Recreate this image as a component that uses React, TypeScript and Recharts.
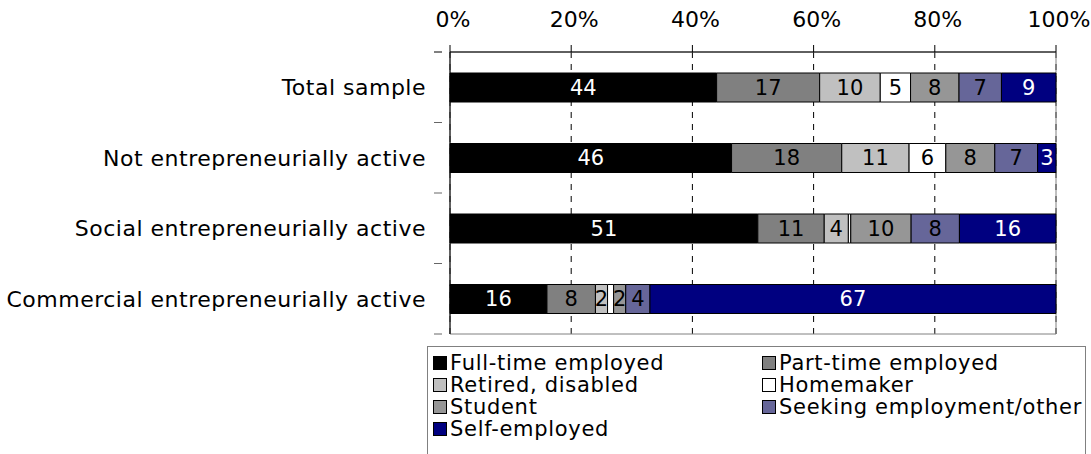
import { BarChart, Bar, XAxis, YAxis, CartesianGrid, LabelList, ReferenceArea } from "recharts";

const categories = [
  "Total sample",
  "Not entrepreneurially active",
  "Social entrepreneurially active",
  "Commercial entrepreneurially active",
];

const fullTime = [44, 46, 51, 16];
const partTime = [17, 18, 11, 8];
const retired = [10, 11, 4, 2];
const homemaker = [5, 6, 0.4, 1];
const student = [8, 8, 10, 2];
const seeking = [7, 7, 8, 4];
const selfEmployed = [9, 3, 16, 67];

const xTicks = [0, 0.2, 0.4, 0.6, 0.8, 1];

const series = [
  { key: "fullTime", name: "Full-time employed", values: fullTime, color: "#000000", text: "#ffffff" },
  { key: "partTime", name: "Part-time employed", values: partTime, color: "#808080", text: "#000000" },
  { key: "retired", name: "Retired, disabled", values: retired, color: "#c0c0c0", text: "#000000" },
  { key: "homemaker", name: "Homemaker", values: homemaker, color: "#ffffff", text: "#000000" },
  { key: "student", name: "Student", values: student, color: "#969696", text: "#000000" },
  { key: "seeking", name: "Seeking employment/other", values: seeking, color: "#666699", text: "#000000" },
  { key: "selfEmployed", name: "Self-employed", values: selfEmployed, color: "#000080", text: "#ffffff" },
];

const data = categories.map((name, i) => {
  const row: Record<string, string | number> = { name };
  series.forEach((s) => {
    row[s.key] = s.values[i];
  });
  return row;
});

const FONT = "'DejaVu Sans', Verdana, sans-serif";

// category label centred on the band, tick marks on the band edges
function CategoryTick(props: any) {
  const { x, y, payload, index } = props;
  const half = payload?.offset ?? 35.25;
  return (
    <g>
      <text
        x={x - 16}
        y={y}
        dy={8}
        textAnchor="end"
        fontSize={22}
        letterSpacing={0.5}
        fill="#000"
        fontFamily={FONT}
      >
        {payload.value}
      </text>
      <line x1={x - 8} x2={x} y1={y + half} y2={y + half} stroke="#666" />
      {index === 0 && <line x1={x - 8} x2={x} y1={y - half} y2={y - half} stroke="#000" />}
    </g>
  );
}

function LegendBox() {
  return (
    <div
      style={{
        position: "absolute",
        left: 427,
        top: 346,
        border: "1px solid #808080",
        width: 659,
        height: 120,
        boxSizing: "border-box",
        padding: "5px 0 0 5px",
        display: "grid",
        gridTemplateColumns: "329px 325px",
        gridAutoRows: "22px",
        fontFamily: FONT,
        fontSize: 21,
        letterSpacing: 0.7,
        lineHeight: "22px",
        color: "#000",
      }}
    >
      {series.map((s) => (
        <div key={s.key} style={{ display: "flex", alignItems: "center", whiteSpace: "nowrap" }}>
          <span
            style={{
              display: "inline-block",
              width: 12,
              height: 12,
              background: s.color,
              border: "1px solid #000",
              marginRight: 3,
              flexShrink: 0,
            }}
          />
          {s.name}
        </div>
      ))}
    </div>
  );
}

export default function App() {
  return (
    <div style={{ position: "fixed", left: 0, top: 0, width: 1091, height: 454, background: "#fff", overflow: "hidden" }}>
      <BarChart
        width={1091}
        height={454}
        data={data}
        layout="vertical"
        stackOffset="expand"
        barSize={29}
        margin={{ top: 0, right: 35, bottom: 120, left: 0 }}
      >
        <CartesianGrid horizontal={false} stroke="#000" strokeDasharray="6 6" />
        <XAxis
          type="number"
          orientation="top"
          domain={[0, 1]}
          ticks={xTicks}
          tickFormatter={(v: number) => `${Math.round(v * 100)}%`}
          height={52}
          axisLine={{ stroke: "#000" }}
          tickLine={{ stroke: "#000" }}
          tickSize={7}
          tickMargin={18}
          tick={{ fontSize: 22, fill: "#000", fontFamily: FONT, dx: 3 }}
          interval={0}
        />
        <YAxis
          type="category"
          dataKey="name"
          width={450}
          axisLine={{ stroke: "#000" }}
          tickLine={false}
          tick={<CategoryTick />}
          interval={0}
        />
        <ReferenceArea x1={0} x2={1} fill="none" stroke="#808080" ifOverflow="visible" />
        {series.map((s) => (
          <Bar
            key={s.key}
            dataKey={s.key}
            name={s.name}
            stackId="a"
            fill={s.color}
            stroke="#000"
            strokeWidth={1}
            isAnimationActive={false}
          >
            <LabelList
              dataKey={s.key}
              position="center"
              fill={s.text}
              fontSize={21}
              fontFamily={FONT}
              formatter={(v: any) => (Number(v) >= 1.5 ? v : "")}
            />
          </Bar>
        ))}
      </BarChart>
      <LegendBox />
    </div>
  );
}
